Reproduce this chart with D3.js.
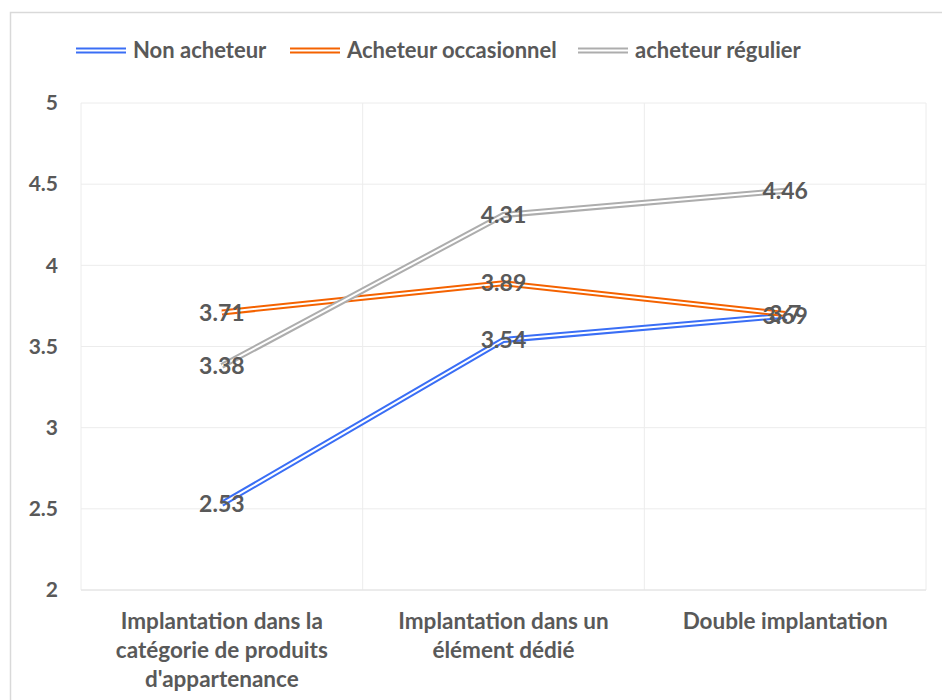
<!DOCTYPE html>
<html><head><meta charset="utf-8">
<script src="https://cdn.jsdelivr.net/npm/d3@7"></script>
<style>body{margin:0;background:#fff;} text{font-family:Lato,"Open Sans",sans-serif;font-weight:bold;fill:#595959;}</style>
</head><body>
<svg id="c" width="942" height="700"></svg>
<script>
const categories = [["Implantation dans la","catégorie de produits","d'appartenance"],["Implantation dans un","élément dédié"],["Double implantation"]];
const seriesNames = ["Non acheteur","Acheteur occasionnel","acheteur régulier"];
const nonAcheteur = [2.53, 3.54, 3.69];
const occasionnel = [3.71, 3.89, 3.7];
const regulier = [3.38, 4.31, 4.46];
const yTicks = [2, 2.5, 3, 3.5, 4, 4.5, 5];
const colors = ["#3a6ef5", "#f46200", "#adadad"];
const seriesValues = [nonAcheteur, occasionnel, regulier];

const svg = d3.select("#c");
svg.append("rect").attr("x",10.5).attr("y",12.5).attr("width",960).attr("height",700).attr("fill","#fff").attr("stroke","#d9d9d9").attr("stroke-width",1.5);

const L=81, R=926, T=103, B=590;
const x = d3.scaleBand().domain(d3.range(categories.length)).range([L,R]);
const y = d3.scaleLinear().domain([2,5]).range([B,T]);
const g = svg.append("g");

// gridlines
g.selectAll(".hg").data(yTicks).join("line").attr("x1",L).attr("x2",R).attr("y1",d=>y(d)).attr("y2",d=>y(d)).attr("stroke","#ececec").attr("stroke-width",1);
g.selectAll(".vg").data(d3.range(categories.length+1)).join("line")
 .attr("x1",d=>d<categories.length?x(d):R).attr("x2",d=>d<categories.length?x(d):R)
 .attr("y1",T).attr("y2",B).attr("stroke","#ececec").attr("stroke-width",1);
g.append("line").attr("x1",L).attr("x2",R).attr("y1",B).attr("y2",B).attr("stroke","#e2e2e2");

// y axis
const yAxis = d3.axisLeft(y).tickValues(yTicks).tickSize(0).tickPadding(0).tickFormat(d3.format(""));
const ya = svg.append("g").attr("transform",`translate(58,0)`).call(yAxis);
ya.select(".domain").remove();
ya.selectAll("text").attr("x",0).attr("text-anchor","end").attr("font-size",21).attr("fill","#595959").attr("font-family","Lato").attr("font-weight","bold");

// x labels
const xa = svg.append("g");
categories.forEach((lines,i)=>{
  const t = xa.append("text").attr("x",x(i)+x.bandwidth()/2).attr("y",629).attr("text-anchor","middle").attr("font-size",22.5);
  lines.forEach((ln,j)=>t.append("tspan").attr("x",x(i)+x.bandwidth()/2).attr("dy",j?29:0).text(ln));
});

// lines
const line = d3.line().x((d,i)=>x(i)+x.bandwidth()/2).y(d=>y(d));
seriesValues.forEach((vals,k)=>{
  g.append("path").attr("d",line(vals)).attr("fill","none").attr("stroke",colors[k]).attr("stroke-width",6);
  g.append("path").attr("d",line(vals)).attr("fill","none").attr("stroke","#fff").attr("stroke-width",2);
});
// labels
seriesValues.forEach((vals,k)=>{
  g.selectAll(null).data(vals).join("text").attr("x",(d,i)=>x(i)+x.bandwidth()/2).attr("y",d=>y(d)).attr("dy","0.36em")
   .attr("text-anchor","middle").attr("font-size",23).text(d=>d);
});

// legend
const leg = svg.append("g");
const legX = [76, 290, 578];
seriesNames.forEach((n,k)=>{
  leg.append("line").attr("x1",legX[k]).attr("x2",legX[k]+50).attr("y1",50.5).attr("y2",50.5).attr("stroke",colors[k]).attr("stroke-width",6);
  leg.append("line").attr("x1",legX[k]).attr("x2",legX[k]+50).attr("y1",50.5).attr("y2",50.5).attr("stroke","#fff").attr("stroke-width",2);
  leg.append("text").attr("x",legX[k]+57).attr("y",50.5).attr("dy","0.35em").attr("font-size",22).text(n);
});
</script>
</body></html>
